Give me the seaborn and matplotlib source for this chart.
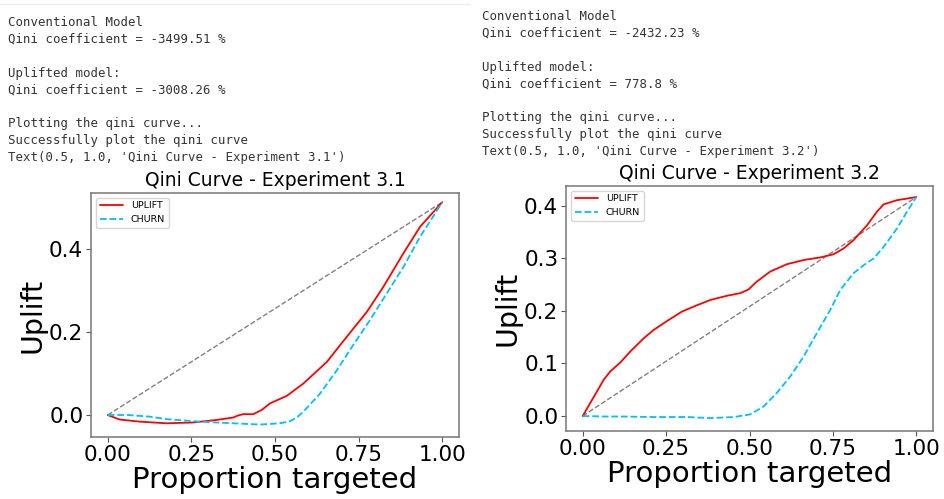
import numpy as np
import pandas as pd
import seaborn as sns
import matplotlib.pyplot as plt

# notebook text printed above each chart
log_31 = ["Conventional Model", "Qini coefficient = -3499.51 %", "",
          "Uplifted model:", "Qini coefficient = -3008.26 %", "",
          "Plotting the qini curve...", "Successfully plot the qini curve",
          "Text(0.5, 1.0, 'Qini Curve - Experiment 3.1')"]
log_32 = ["Conventional Model", "Qini coefficient = -2432.23 %", "",
          "Uplifted model:", "Qini coefficient = 778.8 %", "",
          "Plotting the qini curve...", "Successfully plot the qini curve",
          "Text(0.5, 1.0, 'Qini Curve - Experiment 3.2')"]

# experiment 3.1 curves
uplift_31_x = [0, 0.036, 0.096, 0.176, 0.255, 0.325, 0.375, 0.39, 0.405, 0.435, 0.46, 0.485,
               0.535, 0.585, 0.655, 0.715, 0.775, 0.824, 0.884, 0.934, 1.0]
uplift_31_y = [0, -0.011, -0.016, -0.020, -0.018, -0.012, -0.006, -0.001, 0.002, 0.002, 0.012, 0.028,
               0.046, 0.076, 0.128, 0.189, 0.249, 0.309, 0.390, 0.454, 0.513]
churn_31_x = [0, 0.06, 0.126, 0.176, 0.275, 0.375, 0.455, 0.515, 0.545, 0.565, 0.585, 0.635,
              0.685, 0.734, 0.784, 0.834, 0.884, 0.934, 1.0]
churn_31_y = [0, 0, -0.004, -0.010, -0.016, -0.020, -0.023, -0.020, -0.015, -0.006, 0.008, 0.052,
              0.108, 0.169, 0.229, 0.293, 0.357, 0.430, 0.513]

# experiment 3.2 curves
uplift_32_x = [0, 0.023, 0.043, 0.063, 0.083, 0.113, 0.143, 0.183, 0.213, 0.253, 0.298, 0.343,
               0.383, 0.433, 0.473, 0.497, 0.522, 0.562, 0.612, 0.662, 0.712, 0.752, 0.782,
               0.812, 0.852, 0.882, 0.902, 0.942, 0.972, 1.0]
uplift_32_y = [0, 0.025, 0.047, 0.069, 0.085, 0.102, 0.123, 0.148, 0.164, 0.181, 0.199, 0.211,
               0.221, 0.229, 0.234, 0.241, 0.256, 0.275, 0.289, 0.297, 0.302, 0.308, 0.319,
               0.335, 0.363, 0.389, 0.403, 0.411, 0.414, 0.417]
churn_32_x = [0, 0.063, 0.113, 0.213, 0.313, 0.383, 0.453, 0.502, 0.542, 0.582, 0.622, 0.662,
              0.702, 0.742, 0.772, 0.812, 0.842, 0.872, 0.902, 0.942, 0.972, 1.0]
churn_32_y = [0, -0.001, -0.001, -0.002, -0.002, -0.004, -0.002, 0.003, 0.018, 0.044, 0.075, 0.113,
              0.158, 0.202, 0.240, 0.272, 0.287, 0.300, 0.322, 0.357, 0.389, 0.417]

sns.set_style("white")
plt.rcParams['font.family'] = ['DejaVu Sans']
plt.rcParams['text.color'] = 'black'
plt.rcParams['axes.labelcolor'] = 'black'
plt.rcParams['xtick.color'] = 'black'
plt.rcParams['ytick.color'] = 'black'

W, H = 944, 499
fig = plt.figure(figsize=(W / 100, H / 100), dpi=100)

# faint cell border on the left output
fig.add_artist(plt.Line2D([0, 470 / W], [1 - 4 / H, 1 - 4 / H], color='#eeeeee', lw=1))

def print_log(lines, x0, y0):
    for i, line in enumerate(lines):
        fig.text(x0 / W, 1 - (y0 + 16.9 * i) / H, line, family='DejaVu Sans Mono',
                 fontsize=8.9, color='#333333', va='baseline', ha='left')

print_log(log_31, 8, 26)
print_log(log_32, 482, 20)

def qini_panel(rect, ux, uy, cx, cy, ylim, yticks, title):
    ax = fig.add_axes(rect)
    end = uy[-1]
    ax.plot([0, 1], [0, end], color='gray', ls='--', lw=1)
    sns.lineplot(x=ux, y=uy, ax=ax, color='red', label='UPLIFT', lw=1.3)
    sns.lineplot(x=cx, y=cy, ax=ax, color='deepskyblue', label='CHURN', lw=1.3, ls='--')
    ax.set_xlim(-0.05, 1.05)
    ax.set_ylim(*ylim)
    ax.set_xticks([0, 0.25, 0.5, 0.75, 1.0])
    ax.set_xticklabels(['0.00', '0.25', '0.50', '0.75', '1.00'])
    ax.set_yticks(yticks)
    ax.set_yticklabels([f'{t:.1f}' for t in yticks])
    ax.tick_params(axis='both', labelsize=15.5, length=3.5, width=0.8, color='#555555',
                   labelcolor='black', direction='out', bottom=True, left=True, pad=2)
    for s in ax.spines.values():
        s.set_color('#777777')
        s.set_linewidth(1.1)
    ax.set_xlabel('Proportion targeted', fontsize=21, labelpad=1)
    ax.set_ylabel('Uplift', fontsize=20.5, labelpad=2)
    ax.set_title(title, fontsize=13.5, pad=5)
    ax.legend(loc='upper left', fontsize=6.8, frameon=True, handlelength=2.5)
    return ax

qini_panel([91 / W, 1 - 437 / H, 368 / W, 244 / H], uplift_31_x, uplift_31_y, churn_31_x, churn_31_y,
           (-0.053, 0.535), [0.0, 0.2, 0.4], 'Qini Curve - Experiment 3.1')
qini_panel([566 / W, 1 - 431 / H, 367 / W, 245 / H], uplift_32_x, uplift_32_y, churn_32_x, churn_32_y,
           (-0.0286, 0.438), [0.0, 0.1, 0.2, 0.3, 0.4], 'Qini Curve - Experiment 3.2')

fig.savefig('out.png', dpi=100)
